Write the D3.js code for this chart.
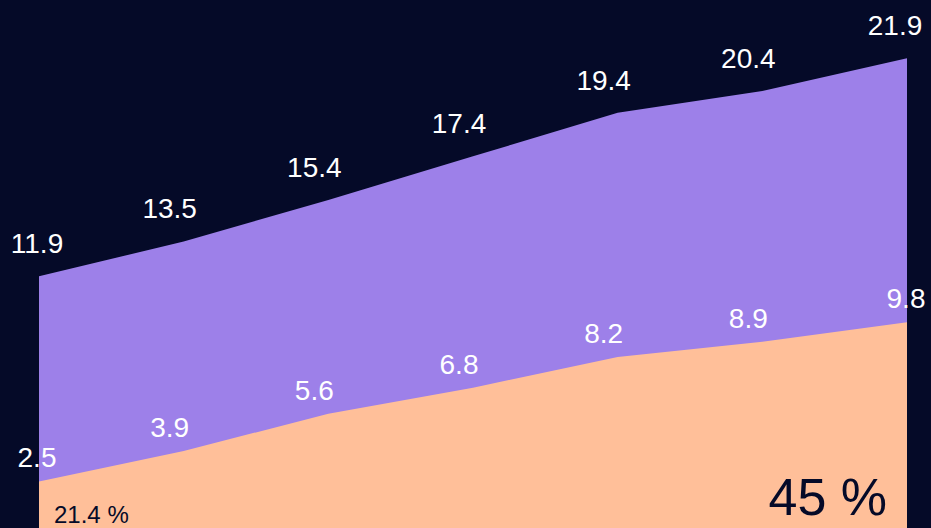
<!DOCTYPE html>
<html>
<head>
<meta charset="utf-8">
<script src="https://cdn.jsdelivr.net/npm/d3@7"></script>
<style>
  html,body{margin:0;padding:0;background:#050a28;overflow:hidden;}
  svg{display:block;font-family:"Liberation Sans",Arial,sans-serif;}
</style>
</head>
<body>
<div id="chart"></div>
<script>
(function(){
  const periods=[1,2,3,4,5,6,7];
  const totalValues=[11.9,13.5,15.4,17.4,19.4,20.4,21.9];
  const partValues=[2.5,3.9,5.6,6.8,8.2,8.9,9.8];
  const shareLabels=["21.4 %","45 %"];

  const W=931,H=528;
  const m={left:39,right:24,bottom:-8};
  const svg=d3.select("#chart").append("svg").attr("width",W).attr("height",H);
  svg.append("rect").attr("width",W).attr("height",H).attr("fill","#050a28");

  const x=d3.scalePoint().domain(periods).range([m.left,W-m.right]);
  const y=d3.scaleLinear().domain([0,22]).range([H-m.bottom,56]);

  const series=[
    {values:totalValues,fill:"#9d80e9",dy:-23},
    {values:partValues,fill:"#ffbf99",dy:-14}
  ];

  const area=d3.area().x((d,i)=>x(periods[i])).y0(y(0)).y1(d=>y(d));
  svg.selectAll(".area").data(series).join("path")
    .attr("d",s=>area(s.values)).attr("fill",s=>s.fill);

  // value labels, nudged left of the point like the original
  series.forEach(s=>{
    svg.append("g").selectAll("text").data(s.values).join("text")
      .attr("x",(d,i)=>{
        const px=x(periods[i]);
        if(i===0) return px-2;
        if(i===periods.length-1) return px-(s===series[0]?12:1);
        return px-14;
      })
      .attr("y",d=>y(d)+s.dy)
      .attr("text-anchor","middle")
      .attr("font-size",28).attr("fill","#ffffff")
      .text(d=>d3.format(".1f")(d));
  });

  svg.append("text").attr("x",x(periods[0])+15).attr("y",523)
    .attr("font-size",24).attr("fill","#050a28").text(shareLabels[0]);
  svg.append("text").attr("x",x(periods[periods.length-1])-20).attr("y",515)
    .attr("text-anchor","end").attr("font-size",52).attr("fill","#050a28").text(shareLabels[1]);
})();
</script>
</body>
</html>
